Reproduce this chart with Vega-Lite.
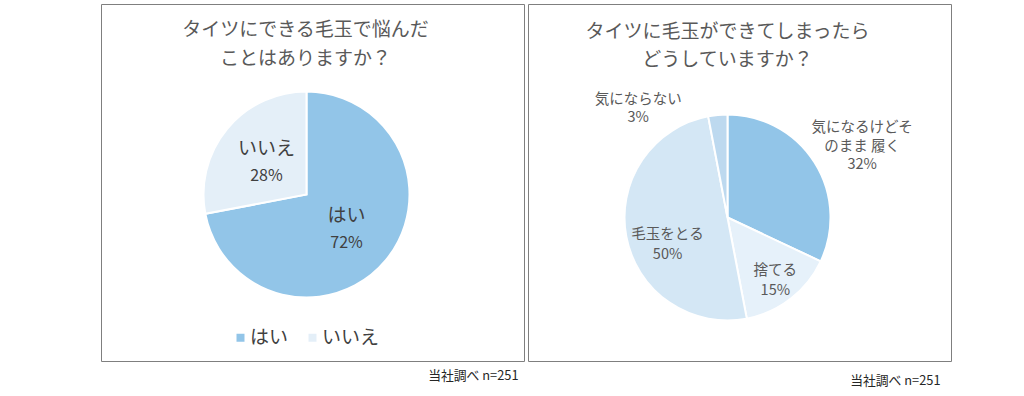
{
  "$schema": "https://vega.github.io/schema/vega-lite/v6.json",
  "background": "white",
  "padding": {"left": 100, "top": 3, "right": 0, "bottom": 0},
  "spacing": 2,
  "config": {
    "font": "Noto Sans CJK JP",
    "view": {"stroke": "#7f7f7f", "strokeWidth": 1}
  },
  "resolve": {"scale": {"color": "independent"}, "legend": {"color": "independent"}},
  "hconcat": [
    {
      "title": {"text": "当社調べ n=251", "orient": "bottom", "anchor": "end", "fontSize": 12.8, "fontWeight": "normal", "color": "#262626", "offset": 8, "dx": -6},
      "vconcat": [
        {
          "width": 423,
          "height": 357,
          "view": {"stroke": "#7f7f7f", "strokeWidth": 1},
          "title": {"text": ["タイツにできる毛玉で悩んだ", "ことはありますか？"], "orient": "top", "anchor": "middle", "offset": -65, "fontSize": 19, "fontWeight": "normal", "color": "#595959", "lineHeight": 29, "dx": -7},
          "data": {"values": [
            {"answer": "はい", "pct": 72, "label": "72%", "idx": 1},
            {"answer": "いいえ", "pct": 28, "label": "28%", "idx": 2}
          ]},
          "layer": [
            {
              "mark": {"type": "arc", "outerRadius": 103, "stroke": "white", "strokeWidth": 2, "xOffset": -6, "yOffset": 12},
              "encoding": {
                "theta": {"field": "pct", "type": "quantitative", "stack": true},
                "order": {"field": "idx", "type": "quantitative"},
                "color": {
                  "field": "answer", "type": "nominal",
                  "scale": {"domain": ["はい", "いいえ"], "range": ["#92C5E8", "#E4EFF8"]},
                  "legend": {"orient": "none", "legendX": 130, "legendY": 324, "direction": "horizontal", "title": null, "symbolType": "square", "symbolSize": 64, "symbolStrokeWidth": 0, "labelFontSize": 19, "labelColor": "#404040", "labelOffset": 0, "columnPadding": 14, "labelFont": "Noto Sans CJK JP"}
                }
              }
            },
            {
              "mark": {"type": "text", "radius": 52, "xOffset": -6, "yOffset": 12, "dy": -12, "fontSize": 19, "color": "#404040", "fontWeight": "normal"},
              "encoding": {
                "theta": {"field": "pct", "type": "quantitative", "stack": true},
                "order": {"field": "idx", "type": "quantitative"},
                "text": {"field": "answer", "type": "nominal"}
              }
            },
            {
              "mark": {"type": "text", "radius": 52, "xOffset": -6, "yOffset": 12, "dy": 15, "fontSize": 16, "color": "#404040"},
              "encoding": {
                "theta": {"field": "pct", "type": "quantitative", "stack": true},
                "order": {"field": "idx", "type": "quantitative"},
                "text": {"field": "label", "type": "nominal"}
              }
            }
          ]
        }
      ]
    },
    {
      "title": {"text": "当社調べ n=251", "orient": "bottom", "anchor": "end", "fontSize": 12.8, "fontWeight": "normal", "color": "#262626", "offset": 13, "dx": -11},
      "vconcat": [
        {
          "width": 423,
          "height": 357,
          "view": {"stroke": "#7f7f7f", "strokeWidth": 1},
          "title": {"text": ["タイツに毛玉ができてしまったら", "どうしていますか？"], "orient": "top", "anchor": "middle", "offset": -66, "fontSize": 19, "fontWeight": "normal", "color": "#595959", "lineHeight": 28, "dx": -12},
          "data": {"values": [
            {"action": "気になるけどそのまま履く", "lines": ["気になるけどそ", "のまま 履く", "32%"], "pct": 32, "idx": 1},
            {"action": "捨てる", "lines": ["捨てる", "15%"], "pct": 15, "idx": 2},
            {"action": "毛玉をとる", "lines": ["毛玉をとる", "50%"], "pct": 50, "idx": 3},
            {"action": "気にならない", "lines": ["気にならない", "3%"], "pct": 3, "idx": 4}
          ]},
          "layer": [
            {
              "mark": {"type": "arc", "outerRadius": 103, "stroke": "white", "strokeWidth": 2, "xOffset": -12, "yOffset": 35},
              "encoding": {
                "theta": {"field": "pct", "type": "quantitative", "stack": true},
                "order": {"field": "idx", "type": "quantitative"},
                "color": {
                  "field": "action", "type": "nominal",
                  "scale": {"domain": ["気になるけどそのまま履く", "捨てる", "毛玉をとる", "気にならない"], "range": ["#92C5E8", "#E6F1FA", "#D4E7F5", "#BDD9EF"]},
                  "legend": null
                }
              }
            },
            {
              "mark": {"type": "text", "radius": 150, "xOffset": -12, "yOffset": 35, "dx": 8, "dy": -9, "fontSize": 14.5, "lineHeight": 18.5, "color": "#595959"},
              "encoding": {
                "theta": {"field": "pct", "type": "quantitative", "stack": true},
                "order": {"field": "idx", "type": "quantitative"},
                "text": {"condition": {"test": "datum.idx == 1", "field": "lines"}, "value": ""}
              }
            },
            {
              "mark": {"type": "text", "radius": 78, "xOffset": -12, "yOffset": 35, "dy": -8, "fontSize": 14.5, "lineHeight": 20, "color": "#595959"},
              "encoding": {
                "theta": {"field": "pct", "type": "quantitative", "stack": true},
                "order": {"field": "idx", "type": "quantitative"},
                "text": {"condition": {"test": "datum.idx == 2", "field": "lines"}, "value": ""}
              }
            },
            {
              "mark": {"type": "text", "radius": 61, "xOffset": -12, "yOffset": 35, "dy": 6, "fontSize": 14.5, "lineHeight": 20, "color": "#595959"},
              "encoding": {
                "theta": {"field": "pct", "type": "quantitative", "stack": true},
                "order": {"field": "idx", "type": "quantitative"},
                "text": {"condition": {"test": "datum.idx == 3", "field": "lines"}, "value": ""}
              }
            },
            {
              "mark": {"type": "text", "radius": 110, "xOffset": -12, "yOffset": 35, "dx": -79, "dy": -8, "fontSize": 14.5, "lineHeight": 18.5, "color": "#595959"},
              "encoding": {
                "theta": {"field": "pct", "type": "quantitative", "stack": true},
                "order": {"field": "idx", "type": "quantitative"},
                "text": {"condition": {"test": "datum.idx == 4", "field": "lines"}, "value": ""}
              }
            }
          ]
        }
      ]
    }
  ]
}
